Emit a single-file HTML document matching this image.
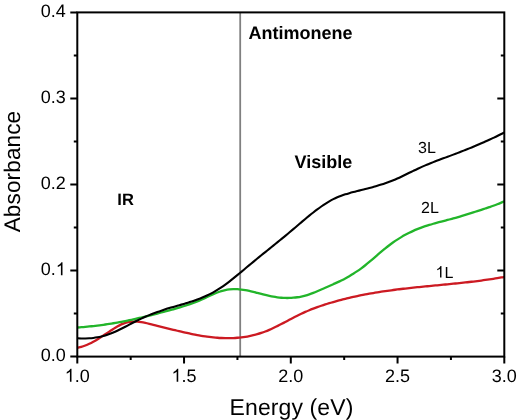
<!DOCTYPE html>
<html><head><meta charset="utf-8"><title>Antimonene absorbance</title>
<style>
html,body{margin:0;padding:0;background:#fff;width:520px;height:420px;overflow:hidden;}
svg{display:block;font-family:"Liberation Sans",sans-serif;will-change:transform;text-rendering:geometricPrecision;}
</style></head><body>
<svg width="520" height="420" viewBox="0 0 520 420" fill="#000">
<line x1="240.2" y1="12.4" x2="240.2" y2="356.6" stroke="#808080" stroke-width="1.8"/>
<path d="M77.30,347.77C77.97,347.62 79.97,347.26 81.30,346.89C82.63,346.52 83.97,346.06 85.30,345.54C86.63,345.03 87.97,344.44 89.30,343.80C90.63,343.17 91.97,342.46 93.30,341.73C94.63,341.00 95.97,340.22 97.30,339.41C98.63,338.61 99.97,337.75 101.30,336.90C102.63,336.04 103.97,335.16 105.30,334.28C106.63,333.40 107.97,332.50 109.30,331.62C110.63,330.74 111.97,329.83 113.30,328.98C114.63,328.13 115.97,327.27 117.30,326.50C118.63,325.73 119.97,324.99 121.30,324.38C122.63,323.77 123.97,323.23 125.30,322.82C126.63,322.41 127.97,322.12 129.30,321.91C130.63,321.70 131.97,321.61 133.30,321.58C134.63,321.55 135.97,321.60 137.30,321.71C138.63,321.81 139.97,322.00 141.30,322.21C142.63,322.42 143.97,322.68 145.30,322.96C146.63,323.24 147.97,323.55 149.30,323.86C150.63,324.17 151.97,324.49 153.30,324.81C154.63,325.13 155.97,325.46 157.30,325.79C158.63,326.12 159.97,326.46 161.30,326.79C162.63,327.12 163.97,327.46 165.30,327.79C166.63,328.12 167.97,328.46 169.30,328.79C170.63,329.12 171.97,329.45 173.30,329.78C174.63,330.11 175.97,330.43 177.30,330.75C178.63,331.07 179.97,331.39 181.30,331.70C182.63,332.01 183.97,332.31 185.30,332.61C186.63,332.91 187.97,333.20 189.30,333.48C190.63,333.76 191.97,334.04 193.30,334.30C194.63,334.56 195.97,334.82 197.30,335.06C198.63,335.30 199.97,335.54 201.30,335.76C202.63,335.98 203.97,336.19 205.30,336.39C206.63,336.58 207.97,336.76 209.30,336.93C210.63,337.10 211.97,337.25 213.30,337.38C214.63,337.51 215.97,337.64 217.30,337.74C218.63,337.84 219.97,337.93 221.30,337.99C222.63,338.06 223.97,338.11 225.30,338.13C226.63,338.15 227.97,338.16 229.30,338.14C230.63,338.12 231.97,338.09 233.30,338.03C234.63,337.97 235.97,337.88 237.30,337.77C238.63,337.66 239.97,337.54 241.30,337.38C242.63,337.22 243.97,337.04 245.30,336.83C246.63,336.62 247.97,336.38 249.30,336.11C250.63,335.84 251.97,335.55 253.30,335.23C254.63,334.91 255.97,334.55 257.30,334.17C258.63,333.79 259.97,333.38 261.30,332.93C262.63,332.48 263.97,332.00 265.30,331.49C266.63,330.98 267.97,330.42 269.30,329.85C270.63,329.28 271.97,328.68 273.30,328.05C274.63,327.43 275.97,326.76 277.30,326.10C278.63,325.44 279.97,324.76 281.30,324.07C282.63,323.38 283.97,322.67 285.30,321.97C286.63,321.27 287.97,320.55 289.30,319.85C290.63,319.15 291.97,318.44 293.30,317.75C294.63,317.06 295.97,316.37 297.30,315.70C298.63,315.03 299.97,314.38 301.30,313.75C302.63,313.12 303.97,312.51 305.30,311.92C306.63,311.33 307.97,310.76 309.30,310.21C310.63,309.66 311.97,309.14 313.30,308.63C314.63,308.12 315.97,307.62 317.30,307.14C318.63,306.66 319.97,306.20 321.30,305.75C322.63,305.30 323.97,304.86 325.30,304.44C326.63,304.02 327.97,303.61 329.30,303.21C330.63,302.81 331.97,302.41 333.30,302.03C334.63,301.65 335.97,301.28 337.30,300.91C338.63,300.55 339.97,300.19 341.30,299.84C342.63,299.49 343.97,299.15 345.30,298.82C346.63,298.49 347.97,298.17 349.30,297.86C350.63,297.55 351.97,297.24 353.30,296.94C354.63,296.64 355.97,296.35 357.30,296.07C358.63,295.79 359.97,295.51 361.30,295.24C362.63,294.97 363.97,294.71 365.30,294.46C366.63,294.21 367.97,293.96 369.30,293.72C370.63,293.48 371.97,293.24 373.30,293.01C374.63,292.78 375.97,292.56 377.30,292.34C378.63,292.12 379.97,291.91 381.30,291.71C382.63,291.50 383.97,291.31 385.30,291.11C386.63,290.92 387.97,290.73 389.30,290.54C390.63,290.36 391.97,290.18 393.30,290.00C394.63,289.82 395.97,289.65 397.30,289.48C398.63,289.31 399.97,289.15 401.30,288.99C402.63,288.83 403.97,288.67 405.30,288.52C406.63,288.37 407.97,288.23 409.30,288.08C410.63,287.93 411.97,287.78 413.30,287.64C414.63,287.50 415.97,287.37 417.30,287.23C418.63,287.09 419.97,286.95 421.30,286.82C422.63,286.69 423.97,286.56 425.30,286.43C426.63,286.30 427.97,286.17 429.30,286.04C430.63,285.91 431.97,285.78 433.30,285.65C434.63,285.52 435.97,285.40 437.30,285.27C438.63,285.14 439.97,285.02 441.30,284.89C442.63,284.76 443.97,284.64 445.30,284.51C446.63,284.38 447.97,284.25 449.30,284.12C450.63,283.99 451.97,283.86 453.30,283.72C454.63,283.59 455.97,283.45 457.30,283.31C458.63,283.17 459.97,283.03 461.30,282.89C462.63,282.75 463.97,282.61 465.30,282.46C466.63,282.31 467.97,282.16 469.30,282.01C470.63,281.86 471.97,281.69 473.30,281.53C474.63,281.37 475.97,281.21 477.30,281.04C478.63,280.87 479.97,280.70 481.30,280.52C482.63,280.34 483.97,280.16 485.30,279.97C486.63,279.78 487.97,279.60 489.30,279.40C490.63,279.20 491.97,279.00 493.30,278.79C494.63,278.58 495.97,278.36 497.30,278.14C498.63,277.92 500.13,277.66 501.30,277.46C502.47,277.26 503.80,277.01 504.30,276.92" fill="none" stroke="#cc1a22" stroke-width="2.3"/>
<path d="M77.30,327.51C77.97,327.46 79.97,327.32 81.30,327.21C82.63,327.10 83.97,326.99 85.30,326.87C86.63,326.75 87.97,326.62 89.30,326.48C90.63,326.34 91.97,326.20 93.30,326.05C94.63,325.90 95.97,325.74 97.30,325.58C98.63,325.42 99.97,325.25 101.30,325.07C102.63,324.89 103.97,324.70 105.30,324.51C106.63,324.31 107.97,324.11 109.30,323.90C110.63,323.69 111.97,323.47 113.30,323.25C114.63,323.03 115.97,322.80 117.30,322.56C118.63,322.32 119.97,322.07 121.30,321.82C122.63,321.57 123.97,321.31 125.30,321.04C126.63,320.77 127.97,320.50 129.30,320.22C130.63,319.94 131.97,319.65 133.30,319.36C134.63,319.07 135.97,318.76 137.30,318.46C138.63,318.15 139.97,317.84 141.30,317.53C142.63,317.21 143.97,316.89 145.30,316.57C146.63,316.25 147.97,315.92 149.30,315.59C150.63,315.26 151.97,314.92 153.30,314.58C154.63,314.24 155.97,313.90 157.30,313.56C158.63,313.22 159.97,312.86 161.30,312.51C162.63,312.16 163.97,311.81 165.30,311.45C166.63,311.09 167.97,310.74 169.30,310.38C170.63,310.02 171.97,309.67 173.30,309.30C174.63,308.93 175.97,308.56 177.30,308.18C178.63,307.80 179.97,307.41 181.30,307.01C182.63,306.61 183.97,306.20 185.30,305.77C186.63,305.34 187.97,304.90 189.30,304.44C190.63,303.98 191.97,303.50 193.30,303.00C194.63,302.50 195.97,301.98 197.30,301.43C198.63,300.88 199.97,300.30 201.30,299.71C202.63,299.12 203.97,298.50 205.30,297.88C206.63,297.26 207.97,296.62 209.30,296.01C210.63,295.39 211.97,294.77 213.30,294.19C214.63,293.61 215.97,293.04 217.30,292.53C218.63,292.02 219.97,291.53 221.30,291.11C222.63,290.69 223.97,290.32 225.30,290.03C226.63,289.74 227.97,289.52 229.30,289.36C230.63,289.20 231.97,289.12 233.30,289.09C234.63,289.06 235.97,289.09 237.30,289.16C238.63,289.24 239.97,289.38 241.30,289.54C242.63,289.71 243.97,289.91 245.30,290.15C246.63,290.38 247.97,290.66 249.30,290.95C250.63,291.24 251.97,291.56 253.30,291.88C254.63,292.20 255.97,292.56 257.30,292.90C258.63,293.24 259.97,293.60 261.30,293.94C262.63,294.28 263.97,294.63 265.30,294.96C266.63,295.29 267.97,295.61 269.30,295.90C270.63,296.19 271.97,296.47 273.30,296.71C274.63,296.95 275.97,297.15 277.30,297.33C278.63,297.50 279.97,297.65 281.30,297.76C282.63,297.87 283.97,297.94 285.30,297.97C286.63,298.00 287.97,298.00 289.30,297.96C290.63,297.92 291.97,297.84 293.30,297.72C294.63,297.60 295.97,297.45 297.30,297.25C298.63,297.05 299.97,296.81 301.30,296.53C302.63,296.25 303.97,295.93 305.30,295.56C306.63,295.19 307.97,294.77 309.30,294.32C310.63,293.87 311.97,293.37 313.30,292.85C314.63,292.33 315.97,291.77 317.30,291.21C318.63,290.65 319.97,290.07 321.30,289.50C322.63,288.93 323.97,288.35 325.30,287.77C326.63,287.19 327.97,286.60 329.30,286.00C330.63,285.40 331.97,284.81 333.30,284.20C334.63,283.59 335.97,282.99 337.30,282.36C338.63,281.73 339.97,281.09 341.30,280.43C342.63,279.77 343.97,279.10 345.30,278.39C346.63,277.68 347.97,276.95 349.30,276.18C350.63,275.41 351.97,274.62 353.30,273.79C354.63,272.96 355.97,272.08 357.30,271.17C358.63,270.26 359.97,269.30 361.30,268.31C362.63,267.32 363.97,266.30 365.30,265.24C366.63,264.19 367.97,263.09 369.30,261.98C370.63,260.87 371.97,259.73 373.30,258.59C374.63,257.45 375.97,256.29 377.30,255.15C378.63,254.01 379.97,252.85 381.30,251.73C382.63,250.60 383.97,249.48 385.30,248.40C386.63,247.32 387.97,246.26 389.30,245.24C390.63,244.22 391.97,243.24 393.30,242.30C394.63,241.36 395.97,240.46 397.30,239.60C398.63,238.74 399.97,237.91 401.30,237.12C402.63,236.33 403.97,235.57 405.30,234.85C406.63,234.13 407.97,233.44 409.30,232.78C410.63,232.12 411.97,231.49 413.30,230.89C414.63,230.29 415.97,229.72 417.30,229.18C418.63,228.64 419.97,228.12 421.30,227.62C422.63,227.12 423.97,226.65 425.30,226.20C426.63,225.75 427.97,225.33 429.30,224.92C430.63,224.51 431.97,224.12 433.30,223.74C434.63,223.36 435.97,222.99 437.30,222.63C438.63,222.27 439.97,221.93 441.30,221.58C442.63,221.23 443.97,220.90 445.30,220.55C446.63,220.21 447.97,219.86 449.30,219.51C450.63,219.16 451.97,218.80 453.30,218.43C454.63,218.06 455.97,217.69 457.30,217.31C458.63,216.93 459.97,216.54 461.30,216.14C462.63,215.74 463.97,215.34 465.30,214.93C466.63,214.52 467.97,214.11 469.30,213.69C470.63,213.27 471.97,212.85 473.30,212.42C474.63,211.99 475.97,211.56 477.30,211.13C478.63,210.70 479.97,210.27 481.30,209.83C482.63,209.39 483.97,208.95 485.30,208.51C486.63,208.07 487.97,207.63 489.30,207.17C490.63,206.71 491.97,206.25 493.30,205.76C494.63,205.27 495.97,204.77 497.30,204.25C498.63,203.73 500.13,203.11 501.30,202.62C502.47,202.13 503.80,201.52 504.30,201.30" fill="none" stroke="#22b52a" stroke-width="2.3"/>
<path d="M77.30,338.24C77.97,338.28 79.97,338.43 81.30,338.47C82.63,338.51 83.97,338.52 85.30,338.50C86.63,338.48 87.97,338.41 89.30,338.32C90.63,338.23 91.97,338.10 93.30,337.93C94.63,337.76 95.97,337.56 97.30,337.32C98.63,337.08 99.97,336.81 101.30,336.49C102.63,336.17 103.97,335.81 105.30,335.41C106.63,335.01 107.97,334.58 109.30,334.10C110.63,333.62 111.97,333.11 113.30,332.55C114.63,331.99 115.97,331.38 117.30,330.76C118.63,330.13 119.97,329.47 121.30,328.80C122.63,328.13 123.97,327.44 125.30,326.74C126.63,326.05 127.97,325.33 129.30,324.63C130.63,323.93 131.97,323.23 133.30,322.54C134.63,321.86 135.97,321.17 137.30,320.52C138.63,319.87 139.97,319.24 141.30,318.62C142.63,318.00 143.97,317.41 145.30,316.83C146.63,316.25 147.97,315.69 149.30,315.15C150.63,314.61 151.97,314.08 153.30,313.57C154.63,313.06 155.97,312.56 157.30,312.08C158.63,311.60 159.97,311.13 161.30,310.68C162.63,310.23 163.97,309.79 165.30,309.36C166.63,308.93 167.97,308.51 169.30,308.11C170.63,307.71 171.97,307.32 173.30,306.93C174.63,306.54 175.97,306.15 177.30,305.77C178.63,305.38 179.97,305.01 181.30,304.62C182.63,304.23 183.97,303.85 185.30,303.45C186.63,303.05 187.97,302.65 189.30,302.23C190.63,301.81 191.97,301.39 193.30,300.94C194.63,300.49 195.97,300.02 197.30,299.53C198.63,299.04 199.97,298.54 201.30,298.00C202.63,297.46 203.97,296.90 205.30,296.30C206.63,295.70 207.97,295.08 209.30,294.41C210.63,293.74 211.97,293.04 213.30,292.30C214.63,291.56 215.97,290.77 217.30,289.95C218.63,289.13 219.97,288.26 221.30,287.36C222.63,286.46 223.97,285.51 225.30,284.54C226.63,283.57 227.97,282.57 229.30,281.55C230.63,280.53 231.97,279.47 233.30,278.41C234.63,277.35 235.97,276.26 237.30,275.17C238.63,274.08 239.97,272.96 241.30,271.85C242.63,270.74 243.97,269.62 245.30,268.50C246.63,267.38 247.97,266.26 249.30,265.15C250.63,264.04 251.97,262.93 253.30,261.83C254.63,260.73 255.97,259.64 257.30,258.55C258.63,257.46 259.97,256.37 261.30,255.29C262.63,254.21 263.97,253.14 265.30,252.06C266.63,250.98 267.97,249.91 269.30,248.83C270.63,247.75 271.97,246.68 273.30,245.60C274.63,244.52 275.97,243.45 277.30,242.37C278.63,241.29 279.97,240.20 281.30,239.11C282.63,238.02 283.97,236.93 285.30,235.83C286.63,234.73 287.97,233.62 289.30,232.51C290.63,231.40 291.97,230.28 293.30,229.15C294.63,228.02 295.97,226.88 297.30,225.75C298.63,224.62 299.97,223.47 301.30,222.34C302.63,221.21 303.97,220.08 305.30,218.97C306.63,217.86 307.97,216.75 309.30,215.66C310.63,214.57 311.97,213.50 313.30,212.46C314.63,211.42 315.97,210.38 317.30,209.39C318.63,208.39 319.97,207.42 321.30,206.49C322.63,205.56 323.97,204.66 325.30,203.80C326.63,202.94 327.97,202.12 329.30,201.35C330.63,200.58 331.97,199.85 333.30,199.18C334.63,198.51 335.97,197.89 337.30,197.31C338.63,196.73 339.97,196.21 341.30,195.72C342.63,195.23 343.97,194.78 345.30,194.35C346.63,193.92 347.97,193.53 349.30,193.15C350.63,192.77 351.97,192.41 353.30,192.06C354.63,191.71 355.97,191.38 357.30,191.04C358.63,190.70 359.97,190.37 361.30,190.04C362.63,189.71 363.97,189.38 365.30,189.04C366.63,188.70 367.97,188.36 369.30,188.01C370.63,187.66 371.97,187.31 373.30,186.95C374.63,186.58 375.97,186.21 377.30,185.82C378.63,185.43 379.97,185.03 381.30,184.61C382.63,184.19 383.97,183.75 385.30,183.29C386.63,182.83 387.97,182.35 389.30,181.85C390.63,181.34 391.97,180.81 393.30,180.26C394.63,179.71 395.97,179.13 397.30,178.53C398.63,177.93 399.97,177.31 401.30,176.68C402.63,176.05 403.97,175.41 405.30,174.76C406.63,174.11 407.97,173.46 409.30,172.81C410.63,172.16 411.97,171.50 413.30,170.86C414.63,170.22 415.97,169.57 417.30,168.95C418.63,168.33 419.97,167.72 421.30,167.12C422.63,166.53 423.97,165.94 425.30,165.38C426.63,164.81 427.97,164.27 429.30,163.73C430.63,163.19 431.97,162.66 433.30,162.14C434.63,161.62 435.97,161.11 437.30,160.60C438.63,160.09 439.97,159.59 441.30,159.09C442.63,158.59 443.97,158.11 445.30,157.61C446.63,157.12 447.97,156.62 449.30,156.12C450.63,155.62 451.97,155.13 453.30,154.63C454.63,154.13 455.97,153.62 457.30,153.11C458.63,152.60 459.97,152.08 461.30,151.56C462.63,151.04 463.97,150.51 465.30,149.98C466.63,149.45 467.97,148.91 469.30,148.37C470.63,147.83 471.97,147.28 473.30,146.73C474.63,146.18 475.97,145.62 477.30,145.05C478.63,144.48 479.97,143.90 481.30,143.32C482.63,142.74 483.97,142.16 485.30,141.56C486.63,140.96 487.97,140.35 489.30,139.74C490.63,139.13 491.97,138.51 493.30,137.88C494.63,137.25 495.97,136.62 497.30,135.97C498.63,135.32 500.13,134.59 501.30,134.01C502.47,133.43 503.80,132.75 504.30,132.50" fill="none" stroke="#000" stroke-width="2.1"/>
<rect x="77.30" y="12.40" width="427.00" height="344.20" fill="none" stroke="#000" stroke-width="2.0"/>
<path d="M77.30,356.60H70.30M77.30,313.58H73.80M504.30,313.58H500.80M77.30,270.55H70.30M504.30,270.55H497.30M77.30,227.52H73.80M504.30,227.52H500.80M77.30,184.50H70.30M504.30,184.50H497.30M77.30,141.47H73.80M504.30,141.47H500.80M77.30,98.45H70.30M504.30,98.45H497.30M77.30,55.42H73.80M504.30,55.42H500.80M77.30,12.40H70.30M77.30,356.60V363.60M130.68,356.60V360.10M184.05,356.60V363.60M237.43,356.60V360.10M290.80,356.60V363.60M344.18,356.60V360.10M397.55,356.60V363.60M450.93,356.60V360.10M504.30,356.60V363.60" stroke="#000" stroke-width="2.0" fill="none"/>
<text x="40.78" y="361.30" font-size="18">0.0</text>
<text x="40.78" y="275.25" font-size="18">0.</text>
<path transform="translate(55.79,275.25) scale(0.008789,-0.008789)" d="M763 0H583V1147Q518 1085 412.5 1023Q307 961 223 930V1104Q374 1175 487 1276Q600 1377 647 1472H763V0Z"/>
<text x="40.78" y="189.20" font-size="18">0.2</text>
<text x="40.78" y="103.15" font-size="18">0.3</text>
<text x="40.78" y="17.10" font-size="18">0.4</text>
<path transform="translate(64.79,381.80) scale(0.008789,-0.008789)" d="M763 0H583V1147Q518 1085 412.5 1023Q307 961 223 930V1104Q374 1175 487 1276Q600 1377 647 1472H763V0Z"/>
<text x="74.80" y="381.80" font-size="18">.0</text>
<path transform="translate(171.54,381.80) scale(0.008789,-0.008789)" d="M763 0H583V1147Q518 1085 412.5 1023Q307 961 223 930V1104Q374 1175 487 1276Q600 1377 647 1472H763V0Z"/>
<text x="181.55" y="381.80" font-size="18">.5</text>
<text x="278.29" y="381.80" font-size="18">2.0</text>
<text x="385.04" y="381.80" font-size="18">2.5</text>
<text x="491.79" y="381.80" font-size="18">3.0</text>
<text x="291.5" y="415.2" text-anchor="middle" font-size="23" letter-spacing="0.1">Energy (eV)</text>
<text transform="translate(20.3,171.5) rotate(-90)" text-anchor="middle" font-size="22.6" letter-spacing="0.1">Absorbance</text>
<text x="248.6" y="39.4" font-size="18" font-weight="bold">Antimonene</text>
<text x="117.3" y="205.1" font-size="16.5" font-weight="bold">IR</text>
<text x="294.6" y="167.7" font-size="18" font-weight="bold">Visible</text>
<text x="418" y="152.8" font-size="16">3L</text>
<text x="421" y="212.5" font-size="16">2L</text>
<path transform="translate(435.50,277.60) scale(0.007812,-0.007812)" d="M763 0H583V1147Q518 1085 412.5 1023Q307 961 223 930V1104Q374 1175 487 1276Q600 1377 647 1472H763V0Z"/>
<text x="444.40" y="277.60" font-size="16">L</text>
</svg>
</body></html>
